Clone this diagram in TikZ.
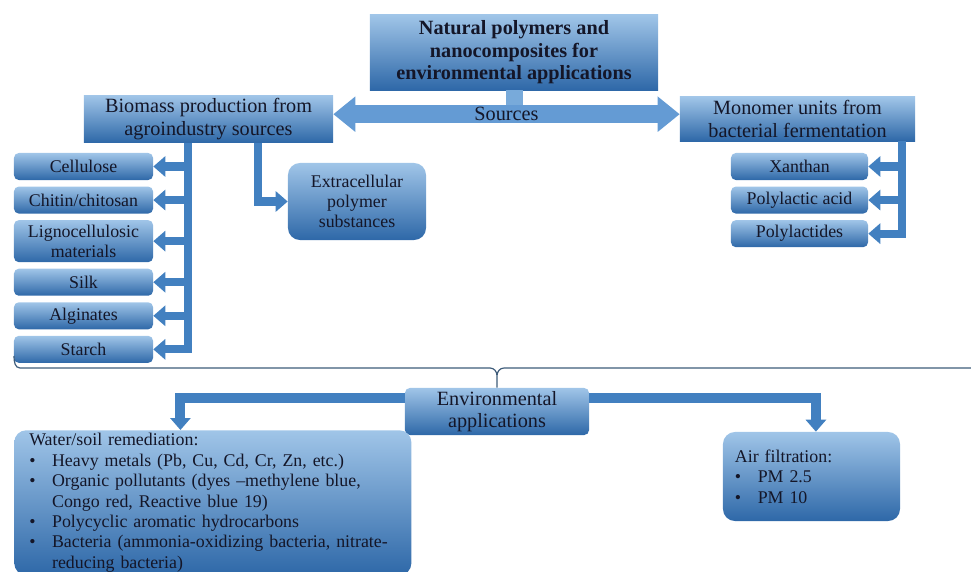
\documentclass[tikz,border=0pt]{standalone}
\usepackage{fontspec}
\setmainfont{Liberation Serif}
\usepackage{tikz}
\usetikzlibrary{arrows.meta}
\usetikzlibrary{positioning}

\definecolor{boxtop}{RGB}{160,197,232}
\definecolor{boxbot}{RGB}{46,104,168}
\definecolor{barblue}{RGB}{66,128,192}
\definecolor{srcblue}{RGB}{100,155,212}
\definecolor{stemblue}{RGB}{120,170,218}
\definecolor{bracecol}{RGB}{62,92,122}
\definecolor{inkcol}{RGB}{20,22,40}

\newcommand{\bitem}{\makebox[0.57cm][l]{\textbullet}}
\newcommand{\bcont}{\hspace*{0.57cm}}
\newcommand{\bigfont}{\fontsize{14.4}{16}\selectfont}

\begin{document}
\begin{tikzpicture}[x=0.025cm, y=-0.025cm,
    every node/.style={font=\fontsize{12.7}{14.5}\selectfont, text=inkcol},
    box/.style={top color=boxtop, bottom color=boxbot, align=center, inner sep=2pt},
    sbox/.style={box, rounded corners=0.12cm, minimum width=3.475cm, minimum height=0.675cm},
    rbox/.style={box, rounded corners=0.3cm},
    bar/.style={draw=barblue, line width=0.2cm, line join=miter, -{Triangle[width=0.5cm,length=0.3cm]}},
    srcarrow/.style={draw=srcblue, line width=0.45cm, {Triangle[width=0.85cm,length=0.55cm]}-{Triangle[width=0.85cm,length=0.55cm]}},
    node distance=0.15cm]
    \useasboundingbox (0,0) rectangle (971,571);

    % main title and sources
    \node[box, font=\bigfont\bfseries, minimum width=7.2cm, minimum height=1.875cm] (top) at (514,52.5) {Natural polymers and\\nanocomposites for\\environmental applications};
    \node[box, font=\bigfont, minimum width=6.225cm, minimum height=1.1cm] (bio) at (208.5,119) {Biomass production from\\agroindustry sources};
    \node[box, font=\bigfont, minimum width=5.875cm, minimum height=1.1cm] (mono) at (797.5,119) {Monomer units from\\bacterial fermentation};

    \draw[stemblue, line width=0.425cm] (top.south) -- (top.south |- bio.east);
    \draw[srcarrow] ([yshift=0.12cm]bio.east) -- node[font=\bigfont] {Sources} ([yshift=0.12cm]mono.west);

    % biomass column
    \node[sbox] (cell) at (83.5,166.5) {Cellulose};
    \node[sbox, below=of cell] (chit) {Chitin/chitosan};
    \node[sbox, below=of chit, minimum height=1.05cm] (lign) {Lignocellulosic\\materials};
    \node[sbox, below=of lign] (silk) {Silk};
    \node[sbox, below=of silk] (algi) {Alginates};
    \node[sbox, below=of algi] (starch) {Starch};
    \node[rbox, minimum width=3.45cm, minimum height=1.925cm] (extra) at (357,201.5) {Extracellular\\polymer\\substances};

    \coordinate (lbar) at ([xshift=-0.51cm]bio.south);
    \draw[bar] (lbar) |- (starch.east);
    \foreach \n in {cell,chit,lign,silk,algi}
        \draw[bar] (lbar |- \n.east) -- (\n.east);
    \draw[bar] ([xshift=1.24cm]bio.south) |- (extra.west);

    % fermentation column
    \node[sbox, minimum width=3.425cm] (xan) at (799.5,166.5) {Xanthan};
    \node[sbox, minimum width=3.425cm, below=of xan] (pla) {Polylactic acid};
    \node[sbox, minimum width=3.425cm, below=of pla] (plt) {Polylactides};

    \coordinate (rbar) at ([xshift=2.61cm]mono.south);
    \draw[bar] (rbar) |- (plt.east);
    \foreach \n in {xan,pla}
        \draw[bar] (rbar |- \n.east) -- (\n.east);

    % applications
    \node[box, font=\bigfont, rounded corners=0.12cm, minimum width=4.6cm, minimum height=1.175cm] (env) at (497,411.5) {Environmental\\applications};
    \node[rbox, anchor=north west, align=left, text width=9.175cm, inner xsep=0.375cm, inner ysep=0.08cm] (water) at (14,430)
        {Water/soil remediation:\\
         \bitem Heavy metals (Pb, Cu, Cd, Cr, Zn, etc.)\\
         \bitem Organic pollutants (dyes --methylene blue,\\
         \bcont Congo red, Reactive blue 19)\\
         \bitem Polycyclic aromatic hydrocarbons\\
         \bitem Bacteria (ammonia-oxidizing bacteria, nitrate-\\
         \bcont reducing bacteria)};
    \node[rbox, align=left, text width=3.825cm, inner xsep=0.3cm, minimum height=2.225cm] (air) at (811.5,476.5)
        {Air filtration:\\ \bitem PM 2.5\\ \bitem PM 10};

    \draw[bar, line width=0.25cm] ([yshift=0.34cm]env.west) -| ([xshift=-0.81cm]water.north);
    \draw[bar, line width=0.25cm] ([yshift=0.34cm]env.east) -| ([xshift=0.11cm]air.north);

    % brace over the sources
    \coordinate (braceL) at (14,356);
    \coordinate (braceR) at (971,368);
    \draw[bracecol, line width=0.03cm] (braceL) to[out=-90,in=180] (20,368) -- (490,368)
        to[out=0,in=90] ([yshift=0.3cm]env.north) -- (env.north)
        ([yshift=0.3cm]env.north) to[out=90,in=180] (504,368) -- (braceR);
\end{tikzpicture}
\end{document}
